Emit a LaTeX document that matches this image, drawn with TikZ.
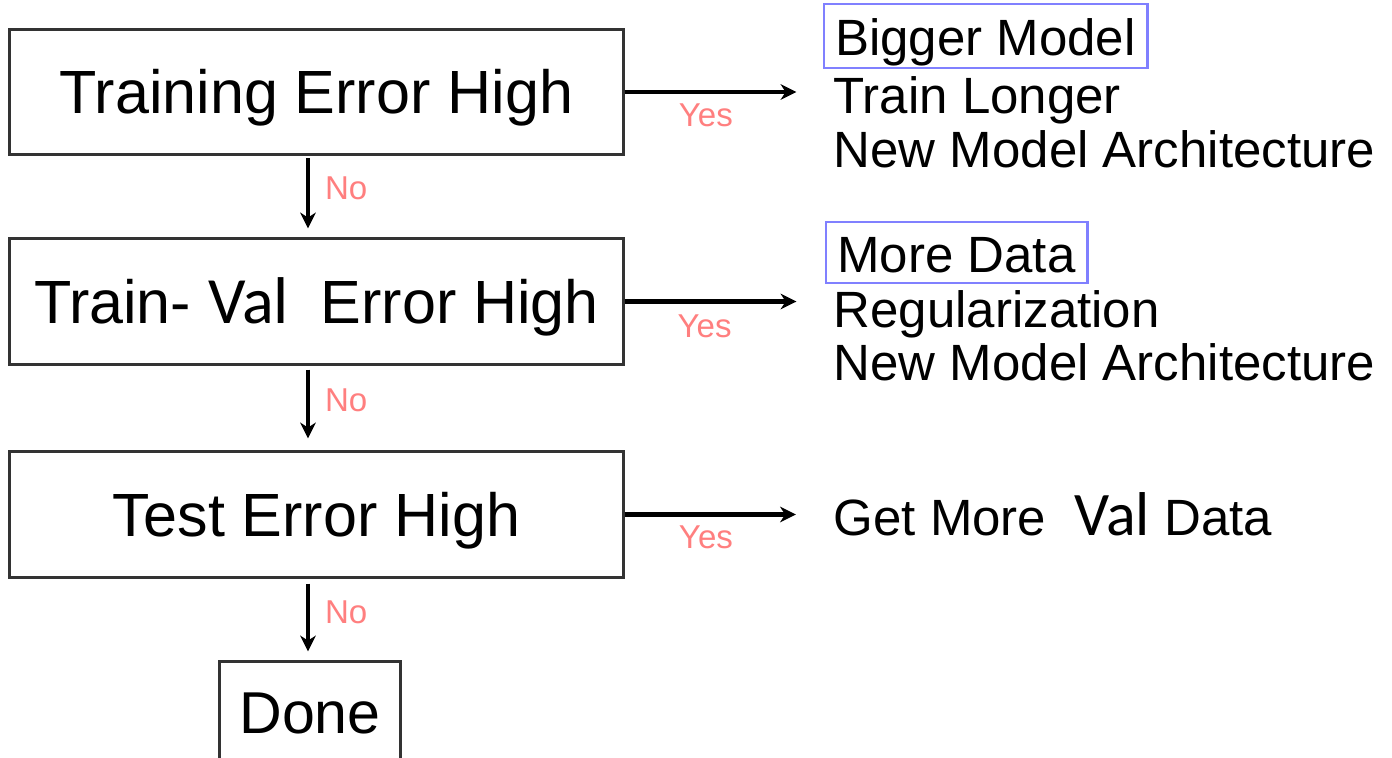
\documentclass[tikz,border=0pt]{standalone}
\usepackage{fontspec}
\setmainfont{Liberation Sans}
\newfontfamily\valfont{Carlito}
\usetikzlibrary{arrows.meta}
\definecolor{boxgray}{HTML}{333333}
\definecolor{labred}{HTML}{FF7F7F}
\definecolor{hlblue}{HTML}{8080FF}
\begin{document}
\begin{tikzpicture}[x=0.01cm,y=-0.01cm,
  box/.style={draw=boxgray, line width=0.85pt, minimum width=6.13cm, minimum height=1.25cm,
    inner sep=0pt, font=\fontsize{17.36pt}{20pt}\selectfont, text height=0.437cm, text depth=0pt},
  arr/.style={line width=1.2pt, -{Stealth[length=4.5pt, width=4.4pt, inset=1.4pt]}},
  lab/.style={text=labred, inner sep=0pt, font=\fontsize{9.4pt}{11pt}\selectfont},
  rt/.style={anchor=base west, inner sep=0pt, font=\fontsize{14.5pt}{17pt}\selectfont},
  hl/.style={draw=hlblue, line width=0.8pt, inner sep=0pt, font=\fontsize{14.5pt}{17pt}\selectfont, text depth=0pt}
]
\useasboundingbox (0,0) rectangle (1392,757);
\fill[white] (0,0) rectangle (1392,757);

% main boxes
\node[box] (b1) at (316.5,92) {Training Error High};
\node[box] (b2) at (316.5,301.5) {Train- {\valfont\fontsize{18.8pt}{22pt}\selectfont Val\ }\ Error High};
\node[box] (b3) at (316.5,514.5) {Test Error High};
\node[box, minimum width=1.8cm, minimum height=1.0cm, font=\fontsize{16.8pt}{20pt}\selectfont, text height=0.422cm] (done) at (310,712) {Done};

% right-hand texts
\node[hl, minimum width=3.23cm, minimum height=0.64cm, text height=0.38cm] (bm) at (985.5,36) {Bigger Model};
\node[rt] (tl) at (833,113) {Train Longer};
\node[rt] (nma1) at (833,167) {New Model Architecture};
\node[hl, minimum width=2.61cm, minimum height=0.61cm, text height=0.39cm] (md) at (956.5,252.5) {More Data};
\node[rt] (reg) at (833,327) {Regularization};
\node[rt] (nma2) at (833,380) {New Model Architecture};
\node[rt] (gmv) at (833,535) {Get More\ \ {\valfont\fontsize{17.6pt}{20pt}\selectfont Val} Data};

% down arrows
\coordinate (ax) at (308,0);
\draw[arr, shorten <=0.02cm, shorten >=0.09cm] (b1.south -| ax) -- (b2.north -| ax)
  node[lab, anchor=west, pos=0.39, xshift=0.15cm] (no1) {No};
\draw[arr, shorten <=0.04cm, shorten >=0.12cm] (b2.south -| ax) -- (b3.north -| ax)
  node[lab, anchor=west, pos=0.41, xshift=0.15cm] (no2) {No};
\draw[arr, shorten <=0.05cm, shorten >=0.09cm] (b3.south -| ax) -- (done.north -| ax)
  node[lab, anchor=west, pos=0.41, xshift=0.15cm] (no3) {No};

% right arrows
\draw[arr, shorten >=0.26cm] (b1.east) -- (b1.east -| bm.west)
  node[lab, pos=0.41, yshift=-0.23cm] (yes1) {Yes};
\draw[arr, shorten >=0.28cm] (b2.east) -- (b2.east -| md.west)
  node[lab, pos=0.40, yshift=-0.245cm] (yes2) {Yes};
\draw[arr, shorten >=0.37cm] (b3.east) -- (b3.east -| gmv.west)
  node[lab, pos=0.39, yshift=-0.225cm] (yes3) {Yes};
\end{tikzpicture}
\end{document}
